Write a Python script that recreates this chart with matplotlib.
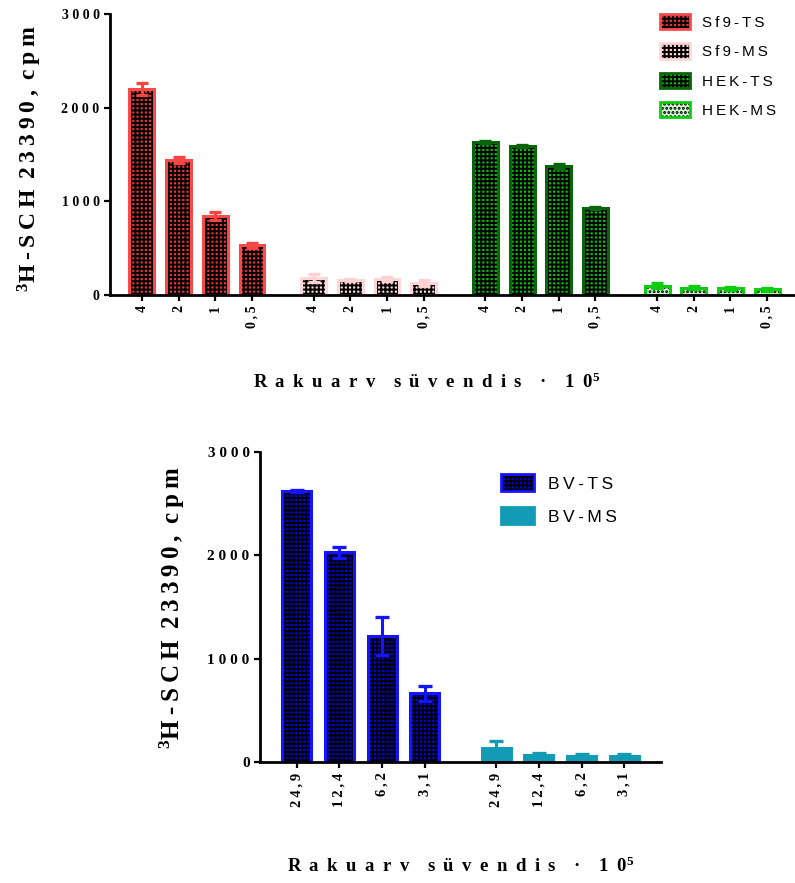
import numpy as np
import matplotlib
matplotlib.use("Agg")
import matplotlib.pyplot as plt
from matplotlib.patches import Patch
from matplotlib.legend_handler import HandlerTuple

# ---------------- data ----------------
conc_top = ['4', '2', '1', '0,5']
series_top = ['Sf9-TS', 'Sf9-MS', 'HEK-TS', 'HEK-MS']
sf9_ts = [2200, 1440, 845, 530]
sf9_ts_err = [60, 30, 40, 25]
sf9_ms = [180, 160, 170, 130]
sf9_ms_err = [40, 15, 20, 30]
hek_ts = [1635, 1590, 1375, 925]
hek_ts_err = [8, 8, 25, 10]
hek_ms = [100, 78, 70, 60]
hek_ms_err = [25, 14, 12, 12]

conc_bot = ['24,9', '12,4', '6,2', '3,1']
series_bot = ['BV-TS', 'BV-MS']
bv_ts = [2620, 2030, 1220, 665]
bv_ts_err = [10, 55, 180, 70]
bv_ms = [140, 68, 60, 58]
bv_ms_err = [65, 16, 15, 17]

yticks = [0, 1000, 2000, 3000]

# ---------------- styles ----------------
plt.rcParams['hatch.linewidth'] = 1.4
plt.rcParams['mathtext.fontset'] = 'custom'
plt.rcParams['mathtext.rm'] = 'Liberation Serif:bold'
plt.rcParams['mathtext.bf'] = 'Liberation Serif:bold'
plt.rcParams['mathtext.it'] = 'Liberation Serif:bold'
plt.rcParams['mathtext.default'] = 'rm'

SERIF = ['Liberation Serif', 'DejaVu Serif']
SANS = ['Liberation Sans', 'DejaVu Sans']

styles_top = [
    dict(face='#EE3535', edge='#F84A4A', hatch='++++', err='#F44444'),
    dict(face='#FFD8D8', edge='#FFD6D6', hatch='++++', err='#FFD0D0'),
    dict(face='#00C400', edge='#0A640A', hatch='++++', err='#0A640A'),
    dict(face='#CDF7CD', edge='#10CC10', hatch='....', err='#10CC10'),
]
styles_bot = [
    dict(face='#0000F5', edge='#1414FF', hatch='++++', err='#1414FF'),
    dict(face='#139BB5', edge='#139BB5', hatch=None, err='#139BB5'),
]

THIN = '\u2009'


def sp(s, gap=THIN, wordgap=' '):
    return wordgap.join(gap.join(w) for w in s.split(' '))


W, H = 795, 883
fig = plt.figure(figsize=(W / 100, H / 100), dpi=100)

ax1 = fig.add_axes([110 / W, 1 - 295 / H, (795 - 110) / W, (295 - 14) / H])
ax2 = fig.add_axes([260 / W, 1 - 762 / H, (661 - 260) / W, (762 - 452) / H])

GROUP = 4.68
BW = 0.68


def draw(ax, vals_list, errs_list, styles, conc, capsize, xlim, ytfs, xtfs):
    handles = []
    ticks, labels = [], []
    for g, (vals, errs, st) in enumerate(zip(vals_list, errs_list, styles)):
        x = g * GROUP + np.arange(len(vals))
        ax.bar(x, vals, width=BW, color=st['face'], edgecolor='black',
               hatch=st['hatch'], linewidth=0, zorder=2)
        ax.bar(x, vals, width=BW, facecolor='none', edgecolor=st['edge'],
               linewidth=2.2, zorder=3)
        ax.errorbar(x, vals, yerr=errs, fmt='none', ecolor=st['err'],
                    elinewidth=2.2, capsize=capsize, capthick=2.4, zorder=4)
        ticks.extend(x)
        labels.extend(conc)
        handles.append((Patch(facecolor=st['face'], edgecolor='black',
                              hatch=st['hatch'], linewidth=0),
                        Patch(facecolor='none', edgecolor=st['edge'],
                              linewidth=2.0)))
    ax.set_xlim(*xlim)
    ax.set_ylim(0, 3000)
    ax.set_yticks(yticks)
    ax.set_yticklabels([sp(str(v), gap=' ') for v in yticks],
                       family=SERIF, fontweight='bold', fontsize=ytfs)
    ax.set_xticks(ticks)
    ax.set_xticklabels([sp(c) for c in labels], rotation=90, family=SERIF,
                       fontweight='bold', fontsize=xtfs)
    for s in ['top', 'right']:
        ax.spines[s].set_visible(False)
    for s in ['left', 'bottom']:
        ax.spines[s].set_linewidth(2.0)
        ax.spines[s].set_zorder(6)
    ax.tick_params(axis='both', direction='out', length=4.5, width=1.6,
                   pad=3)
    ax.patch.set_alpha(0)
    return handles


h1 = draw(ax1, [sf9_ts, sf9_ms, hek_ts, hek_ms],
          [sf9_ts_err, sf9_ms_err, hek_ts_err, hek_ms_err],
          styles_top, conc_top, 4.5, (-0.87, 17.8), 10, 10)
h2 = draw(ax2, [bv_ts, bv_ms], [bv_ts_err, bv_ms_err],
          styles_bot, conc_bot, 5, (-0.86, 8.54), 11, 10.5)

fs1 = 11
ax1.legend(h1, [sp(s) for s in series_top],
           handler_map={tuple: HandlerTuple(ndivide=1, pad=0)},
           loc='upper left', bbox_to_anchor=(660 / W, 1 - 14 / H),
           bbox_transform=fig.transFigure, frameon=False,
           prop=dict(family=SANS, size=fs1),
           handlelength=30 / (fs1 * 100 / 72), handleheight=18 / (fs1 * 100 / 72),
           handletextpad=0.8, labelspacing=0.88, borderpad=0, borderaxespad=0)

fs2 = 12.5
ax2.legend(h2, [sp(s) for s in series_bot],
           handler_map={tuple: HandlerTuple(ndivide=1, pad=0)},
           loc='upper left', bbox_to_anchor=(501 / W, 1 - 474 / H),
           bbox_transform=fig.transFigure, frameon=False,
           prop=dict(family=SANS, size=fs2),
           handlelength=33 / (fs2 * 100 / 72), handleheight=20 / (fs2 * 100 / 72),
           handletextpad=0.8, labelspacing=0.9, borderpad=0, borderaxespad=0)

ylab = '$^{3}$' + sp('H-SCH 23390, cpm', gap=THIN, wordgap=THIN + ' ')
xlab = sp('Rakuarv süvendis · 10', gap=' ' + THIN, wordgap='\u2002\u2002') + '$^{5}$'

fig.text(30 / W, 1 - 158 / H, ylab, rotation=90, ha='center', va='center',
         family=SERIF, fontweight='bold', fontsize=17)
fig.text(427 / W, 1 - 382 / H, xlab, ha='center', va='center',
         family=SERIF, fontweight='bold', fontsize=13.5)

fig.text(172 / W, 1 - 608 / H, ylab, rotation=90, ha='center', va='center',
         family=SERIF, fontweight='bold', fontsize=18)
fig.text(461 / W, 1 - 866 / H, xlab, ha='center', va='center',
         family=SERIF, fontweight='bold', fontsize=13.5)

fig.savefig('out.png', dpi=100)
